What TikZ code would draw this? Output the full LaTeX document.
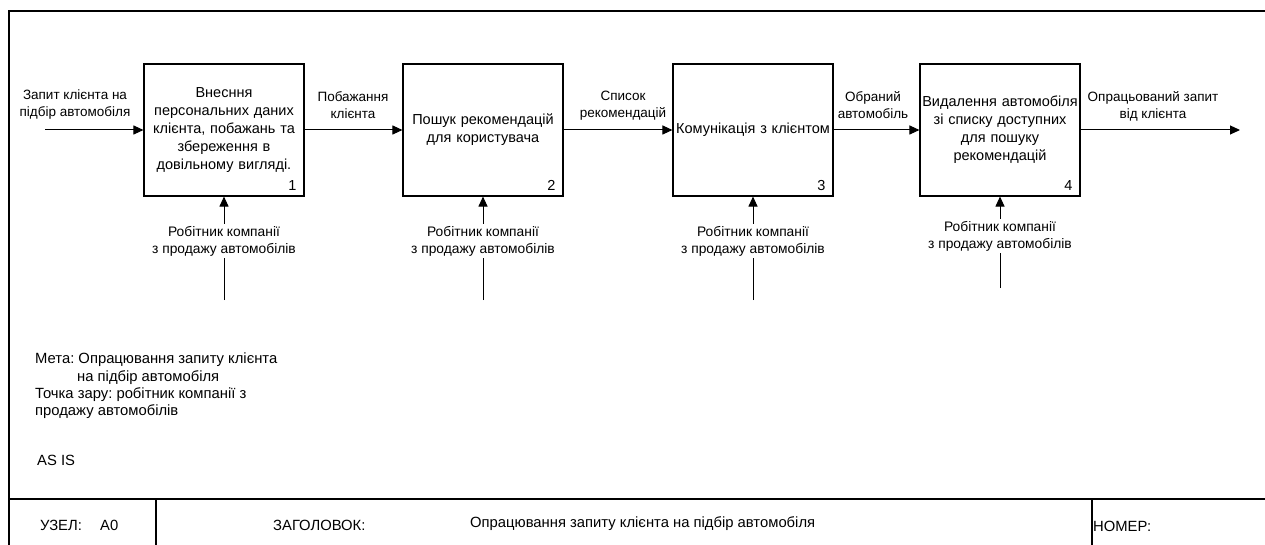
\documentclass[tikz,border=0pt]{standalone}
\usepackage{fontspec}
\setmainfont{Liberation Sans}
\frenchspacing
\usetikzlibrary{arrows.meta}

\tikzset{
  func/.style={draw, line width=1.1pt, minimum width=160pt, minimum height=132pt,
    align=center, text width=158pt, inner sep=0pt, font=\fontsize{14.5}{18}\selectfont},
  flow/.style={line width=1pt, -{Triangle[length=10pt,width=9pt]}},
  flowlbl/.style={align=center, inner sep=0pt, font=\fontsize{13.5}{17}\selectfont},
  mech/.style={fill=white, align=center, inner sep=2pt, font=\fontsize{13.8}{17}\selectfont},
  txt/.style={anchor=west, inner sep=0pt, font=\fontsize{14.8}{17}\selectfont},
  frameln/.style={line width=1.2pt},
}

\begin{document}
\begin{tikzpicture}[x=1pt, y=-1pt]
  \useasboundingbox (0,0) rectangle (1265,545);

  % --- Frame and title bar ---
  \draw[frameln] (1265,11) -- (9,11) -- (9,545);
  \draw[frameln] (9,499) -- (1265,499);
  \draw[frameln] (156,499) -- (156,545);
  \draw[frameln] (1092,499) -- (1092,545);

  % --- Function boxes ---
  \node[func] (b1) at (224,130) {Внесння\\персональних даних\\клієнта, побажань та\\збереження в\\довільному вигляді.};
  \node[func] (b2) at (483,130) {Пошук рекомендацій\\для користувача};
  \node[func] (b3) at (753,130) {Комунікація з клієнтом};
  \node[func] (b4) at (1000,130) {Видалення автомобіля\\зі списку доступних\\для пошуку\\рекомендацій};
  \foreach \i in {1,...,4} {
    \node[anchor=south east, inner sep=0pt, font=\fontsize{14.5}{16}\selectfont] (n\i)
      at ([xshift=-8pt, yshift=6pt]b\i.south east) {\i};
  }

  % --- Inputs and outputs ---
  \coordinate (in) at (45,130);
  \coordinate (out) at (1240,130);
  \draw[flow] (in) -- (b1);
  \draw[flow] (b1) -- (b2);
  \draw[flow] (b2) -- (b3);
  \draw[flow] (b3) -- (b4);
  \draw[flow] (b4) -- (out);
  \node[flowlbl] (l0) at (75,105) {Запит клієнта на\\підбір автомобіля};
  \node[flowlbl] (l1) at (353,105) {Побажання\\клієнта};
  \node[flowlbl] (l2) at (623,106) {Список\\рекомендацій};
  \node[flowlbl] (l3) at (873,105) {Обраний\\автомобіль};
  \node[flowlbl] (l4) at (1153,106) {Опрацьований запит\\від клієнта};

  % --- Mechanisms ---
  \foreach \i/\x/\y in {1/224/300, 2/483/300, 3/753/300, 4/1000/288} {
    \coordinate (m\i) at (\x,\y);
    \draw[flow] (m\i) -- node[mech, pos=0.57] (ml\i) {Робітник компанії\\з продажу автомобілів} (b\i);
  }

  % --- Notes ---
  \node[txt] (goal1) at (35,360) {Мета: Опрацювання запиту клієнта};
  \node[txt] (goal2) at (77,378) {на підбір автомобіля};
  \node[txt] (view1) at (35,395) {Точка зару: робітник компанії з};
  \node[txt] (view2) at (35,412) {продажу автомобілів};
  \node[txt] (asis) at (37,460) {AS IS};

  % --- Title bar texts ---
  \node[txt] (uzel) at (40,525) {УЗЕЛ:};
  \node[txt] (a0) at (100,525) {A0};
  \node[txt] (zag) at (273,525) {ЗАГОЛОВОК:};
  \node[txt] (title) at (470,524) {Опрацювання запиту клієнта на підбір автомобіля};
  \node[txt] (nomer) at (1093,526) {НОМЕР:};
\end{tikzpicture}
\end{document}
